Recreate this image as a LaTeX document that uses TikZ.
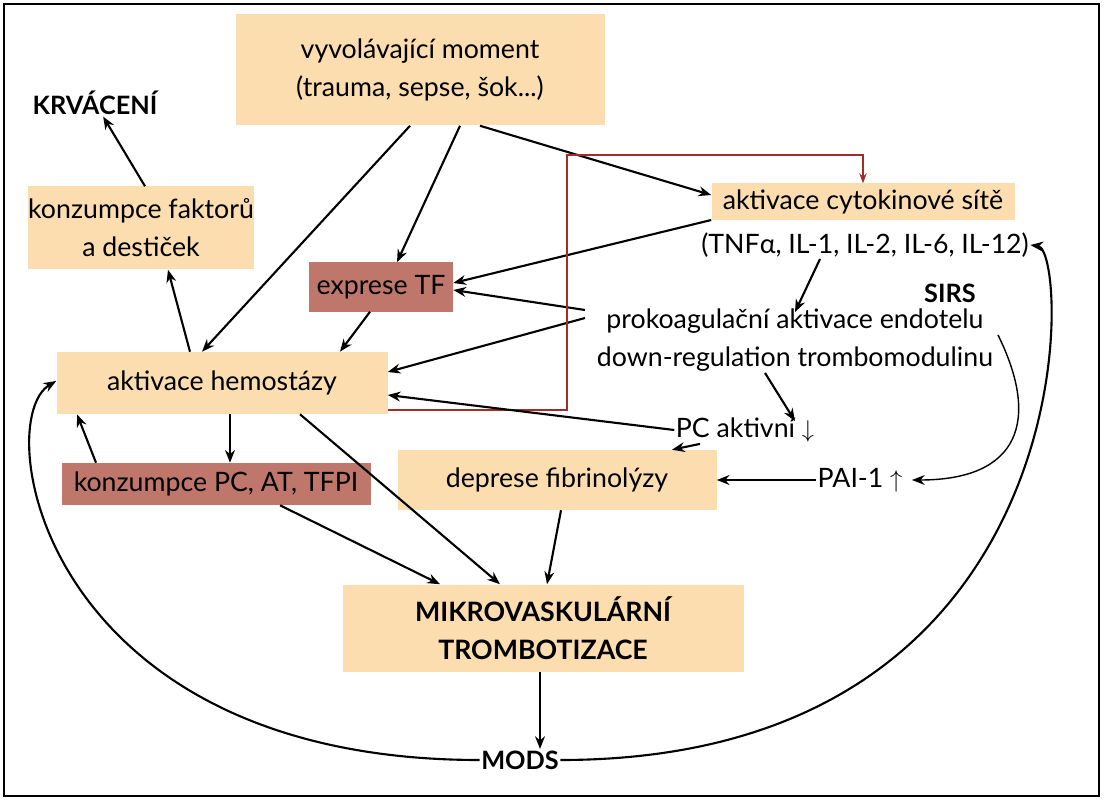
\documentclass[tikz,border=0pt]{standalone}
\usepackage{fontspec}
\setmainfont{Lato}
\usetikzlibrary{positioning, calc, arrows.meta}
\definecolor{peach}{HTML}{FBDDB0}
\definecolor{rust}{HTML}{BF776B}
\definecolor{darkred}{HTML}{A02C2C}
\tikzstyle{box} = [rectangle, fill=peach, text centered, inner sep=0pt]
\tikzstyle{dbox} = [rectangle, fill=rust, text centered, inner sep=0pt]
\tikzstyle{plain} = [text centered, inner sep=1pt]
\tikzstyle{arrow} = [-{Stealth[length=9pt, width=7pt]}, line width=1.5pt]
\tikzstyle{every node}=[font=\fontsize{19}{27}\selectfont]

\begin{document}
\begin{tikzpicture}[x=0.025cm, y=-0.025cm, align=center]
  \useasboundingbox (0,0) rectangle (1104,800);
  \draw[line width=1pt] (4,4) rectangle (1099,796);
  % uzly
  \node (trig) [box, minimum width=369*0.025cm, minimum height=111*0.025cm] at (420,70) {vyvolávající moment\\(trauma, sepse, šok...)};
  \node (bleed) [plain, font=\fontsize{18}{20}\selectfont\bfseries] at (95,103) {KRVÁCENÍ};
  \node (cons) [box, minimum width=218*0.025cm, minimum height=83*0.025cm] at (141,228) {konzumpce faktorů\\a destiček};
  \node (tf) [dbox, minimum width=144*0.025cm, minimum height=49*0.025cm] at (381,287) {exprese TF};
  \node (cyto) [box, minimum width=303*0.025cm, minimum height=37*0.025cm] at (863,202) {aktivace cytokinové sítě};
  \node (tnf) [plain] at (865,245) {(TNFα, IL-1, IL-2, IL-6, IL-12)};
  \node (sirs) [plain, font=\fontsize{18}{20}\selectfont\bfseries] at (950,293) {SIRS};
  \node (endo) [plain] at (795,340) {prokoagulační aktivace endotelu\\down-regulation trombomodulinu};
  \node (hemo) [box, minimum width=331*0.025cm, minimum height=62*0.025cm] at (222,383) {aktivace hemostázy};
  \node (pc) [plain] at (745,430) {PC aktivní $\downarrow$};
  \node (fib) [box, minimum width=319*0.025cm, minimum height=60*0.025cm] at (557,480) {deprese fibrinolýzy};
  \node (pai) [plain] at (860,480) {PAI-1 $\big\uparrow$};
  \node (pcat) [dbox, minimum width=309*0.025cm, minimum height=42*0.025cm] at (216,484) {konzumpce PC, AT, TFPI};
  \node (micro) [box, minimum width=401*0.025cm, minimum height=87*0.025cm, font=\fontsize{19}{27}\selectfont\bfseries] at (543,628) {MIKROVASKULÁRNÍ\\TROMBOTIZACE};
  \node (mods) [plain, font=\fontsize{18}{20}\selectfont\bfseries] at (520,760) {MODS};
  \coordinate (rc) at (567,155);

  % spojnice
  \draw [arrow] ([xshift=-10*0.025cm]trig.south) -- ([xshift=-20*0.025cm]hemo.north);
  \draw [arrow] ([xshift=40*0.025cm]trig.south) -- ([xshift=16*0.025cm]tf.north);
  \draw [arrow] ([xshift=60*0.025cm]trig.south) -- ([yshift=7*0.025cm]cyto.west);
  \draw [arrow] ([xshift=4*0.025cm]cons.north) -- (bleed);
  \draw [arrow] ([xshift=-32*0.025cm]hemo.north) -- ([xshift=27*0.025cm]cons.south);
  \draw [arrow] ([xshift=-11*0.025cm]tf.south) -- ([xshift=118*0.025cm]hemo.north);
  \draw [arrow] ([yshift=-18*0.025cm]cyto.west) -- ([yshift=4*0.025cm]tf.east);
  \draw [arrow] ([xshift=-210*0.025cm,yshift=30*0.025cm]endo.center) -- ([yshift=-3*0.025cm]tf.east);
  \draw [arrow] ([xshift=-210*0.025cm,yshift=22*0.025cm]endo.center) -- ([yshift=11*0.025cm]hemo.east);
  \draw [arrow] ([xshift=-45*0.025cm]tnf.south) -- ([yshift=-5*0.025cm]endo.north);
  \draw [darkred, line width=1pt, -{Stealth[length=7pt]}] ([yshift=-27*0.025cm]hemo.east) -| (rc) -| (cyto.north);
  \draw [arrow] ([xshift=-30*0.025cm]endo.south) -- ([xshift=50*0.025cm,yshift=-5*0.025cm]pc.north);
  \draw [arrow] (pc.west) -- ([yshift=-12*0.025cm]hemo.east);
  \draw [arrow] ([xshift=-45*0.025cm]pc.south) -- ([xshift=115*0.025cm]fib.north);
  \draw [arrow] (pai.west) -- (fib.east);
  \draw [arrow, line width=1pt] ([xshift=203*0.025cm,yshift=5*0.025cm]endo.center) .. controls (1040,420) and (1020,480) .. ([xshift=8*0.025cm]pai.east);
  \draw [arrow] ([xshift=8*0.025cm]hemo.south) -- ([xshift=14*0.025cm]pcat.north);
  \draw [arrow] ([xshift=-120*0.025cm]pcat.north) -- ([xshift=-145*0.025cm]hemo.south);
  \draw [arrow] ([xshift=78*0.025cm]hemo.south) -- ([xshift=-43*0.025cm]micro.north);
  \draw [arrow] ([xshift=64*0.025cm]pcat.south) -- ([xshift=-103*0.025cm]micro.north);
  \draw [arrow] ([xshift=4*0.025cm]fib.south) -- ([xshift=4*0.025cm]micro.north);
  \draw [arrow] ([xshift=-3*0.025cm]micro.south) -- ([xshift=20*0.025cm]mods.north);
  \draw [arrow] (mods.west) .. controls (40,760) and (-10,420) .. ([yshift=2*0.025cm]hemo.west);
  \draw [arrow] (mods.east) .. controls (1090,760) and (1070,250) .. (tnf.east);
\end{tikzpicture}
\end{document}
